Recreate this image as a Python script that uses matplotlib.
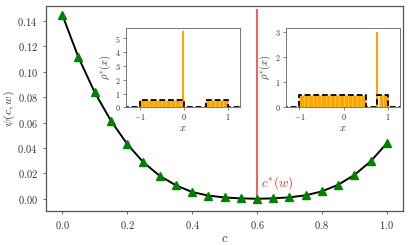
import matplotlib
matplotlib.use("Agg")
import matplotlib.pyplot as plt

plt.rcParams['font.family'] = ['cmr10']
plt.rcParams['mathtext.fontset'] = 'cm'
plt.rcParams['axes.formatter.use_mathtext'] = True

# ---- data ----
c_vals = [0.0, 0.05, 0.10, 0.15, 0.20, 0.25, 0.30, 0.35, 0.40, 0.45, 0.50,
          0.55, 0.60, 0.65, 0.70, 0.75, 0.80, 0.85, 0.90, 0.95, 1.0]
psi_vals = [0.1449, 0.1113, 0.0838, 0.0614, 0.0431, 0.0287, 0.0181, 0.0106,
            0.0053, 0.0025, 0.0010, 0.0003, 0.0000, 0.0003, 0.0011, 0.0027,
            0.0058, 0.0110, 0.0187, 0.0294, 0.0436]
c_star = 0.6
c_star_span = [0.0, 0.1495]
main_xticks = [0.0, 0.2, 0.4, 0.6, 0.8, 1.0]
main_yticks = [0.00, 0.02, 0.04, 0.06, 0.08, 0.10, 0.12, 0.14]

# inset 1
hist1_left = [-1.0, -0.9, -0.8, -0.7, -0.6, -0.5, -0.4, -0.3, -0.2, -0.1,
              0.5, 0.6, 0.7, 0.8, 0.9]
hist1_h = [0.5] * 15
spike1_x = -0.02
spike1_h = 5.5
dens1_x = [-1.4, -1.0, -1.0, 0.0, 0.0, 0.5, 0.5, 1.0, 1.0, 1.4]
dens1_y = [0, 0, 0.5, 0.5, 0, 0, 0.5, 0.5, 0, 0]
inset1_yticks = [0, 1, 2, 3, 4, 5]

# inset 2
hist2_left = [-1.0, -0.9, -0.8, -0.7, -0.6, -0.5, -0.4, -0.3, -0.2, -0.1,
              0.0, 0.1, 0.2, 0.3, 0.4, 0.8, 0.9]
hist2_h = [0.5] * 17
spike2_x = 0.76
spike2_h = 3.0
dens2_x = [-1.4, -1.0, -1.0, 0.5, 0.5, 0.75, 0.75, 1.0, 1.0, 1.4]
dens2_y = [0, 0, 0.5, 0.5, 0, 0, 0.5, 0.5, 0, 0]
inset2_yticks = [0, 1, 2, 3]
inset_xticks = [-1, 0, 1]

spine_col = '#555555'
text_col = '#333333'

fig = plt.figure(figsize=(4.1, 2.45), dpi=100)
ax = fig.add_axes([0.1122, 0.140, 0.870, 0.8355])

ax.plot(c_vals, psi_vals, color='black', lw=1.4, zorder=2)
ax.plot(c_vals, psi_vals, ls='none', marker='^', color='green', ms=5.5, zorder=3)
ax.vlines(c_star, c_star_span[0], c_star_span[1], color='#ee3333', lw=1.1, zorder=1)
ax.text(c_star + 0.012, 0.0095, r'$c^{*}(w)$', color='#ee3333', fontsize=9.5)

ax.set_xlim(-0.05, 1.049)
ax.set_ylim(-0.0094, 0.1517)
ax.set_xticks(main_xticks)
ax.set_yticks(main_yticks)
ax.set_xlabel(r'$c$', fontsize=9, color=text_col, labelpad=1)
ax.set_ylabel(r'$\psi(c,w)$', fontsize=8.5, color=text_col, labelpad=0.5)
ax.tick_params(labelsize=7.5, colors=spine_col, labelcolor=text_col,
               length=2.5, width=0.6, direction='out')
for s in ax.spines.values():
    s.set_color(spine_col)
    s.set_linewidth(0.9)


def make_inset(rect, lefts, heights, sx, sh, dx, dy, yticks, xlim, ylim):
    ia = fig.add_axes(rect)
    ia.bar(lefts, heights, width=0.1, align='edge', color='orange',
           edgecolor='#ffcc77', linewidth=0.4, zorder=1)
    ia.bar([sx], [sh], width=0.04, color='orange', edgecolor='none', zorder=1)
    ia.plot(dx, dy, color='black', ls=(0, (3.2, 1.6)), lw=1.3, zorder=2)
    ia.set_xlim(*xlim)
    ia.set_ylim(*ylim)
    ia.set_xticks(inset_xticks)
    ia.set_yticks(yticks)
    ia.set_xlabel(r'$x$', fontsize=7.5, color=text_col, labelpad=1)
    ia.set_ylabel(r'$\rho^{*}(x)$', fontsize=7.5, color=text_col, labelpad=1.5)
    ia.tick_params(labelsize=5.8, colors=spine_col, labelcolor=text_col,
                   length=2, width=0.5, pad=1.5)
    for s in ia.spines.values():
        s.set_color('#777777')
        s.set_linewidth(0.7)
    return ia


make_inset([0.3066, 0.562, 0.2788, 0.3237], hist1_left, hist1_h, spike1_x, spike1_h,
           dens1_x, dens1_y, inset1_yticks, (-1.33, 1.28), (0, 5.75))
make_inset([0.6968, 0.562, 0.2788, 0.3237], hist2_left, hist2_h, spike2_x, spike2_h,
           dens2_x, dens2_y, inset2_yticks, (-1.31, 1.28), (0, 3.15))

fig.savefig('out.png', dpi=100)
